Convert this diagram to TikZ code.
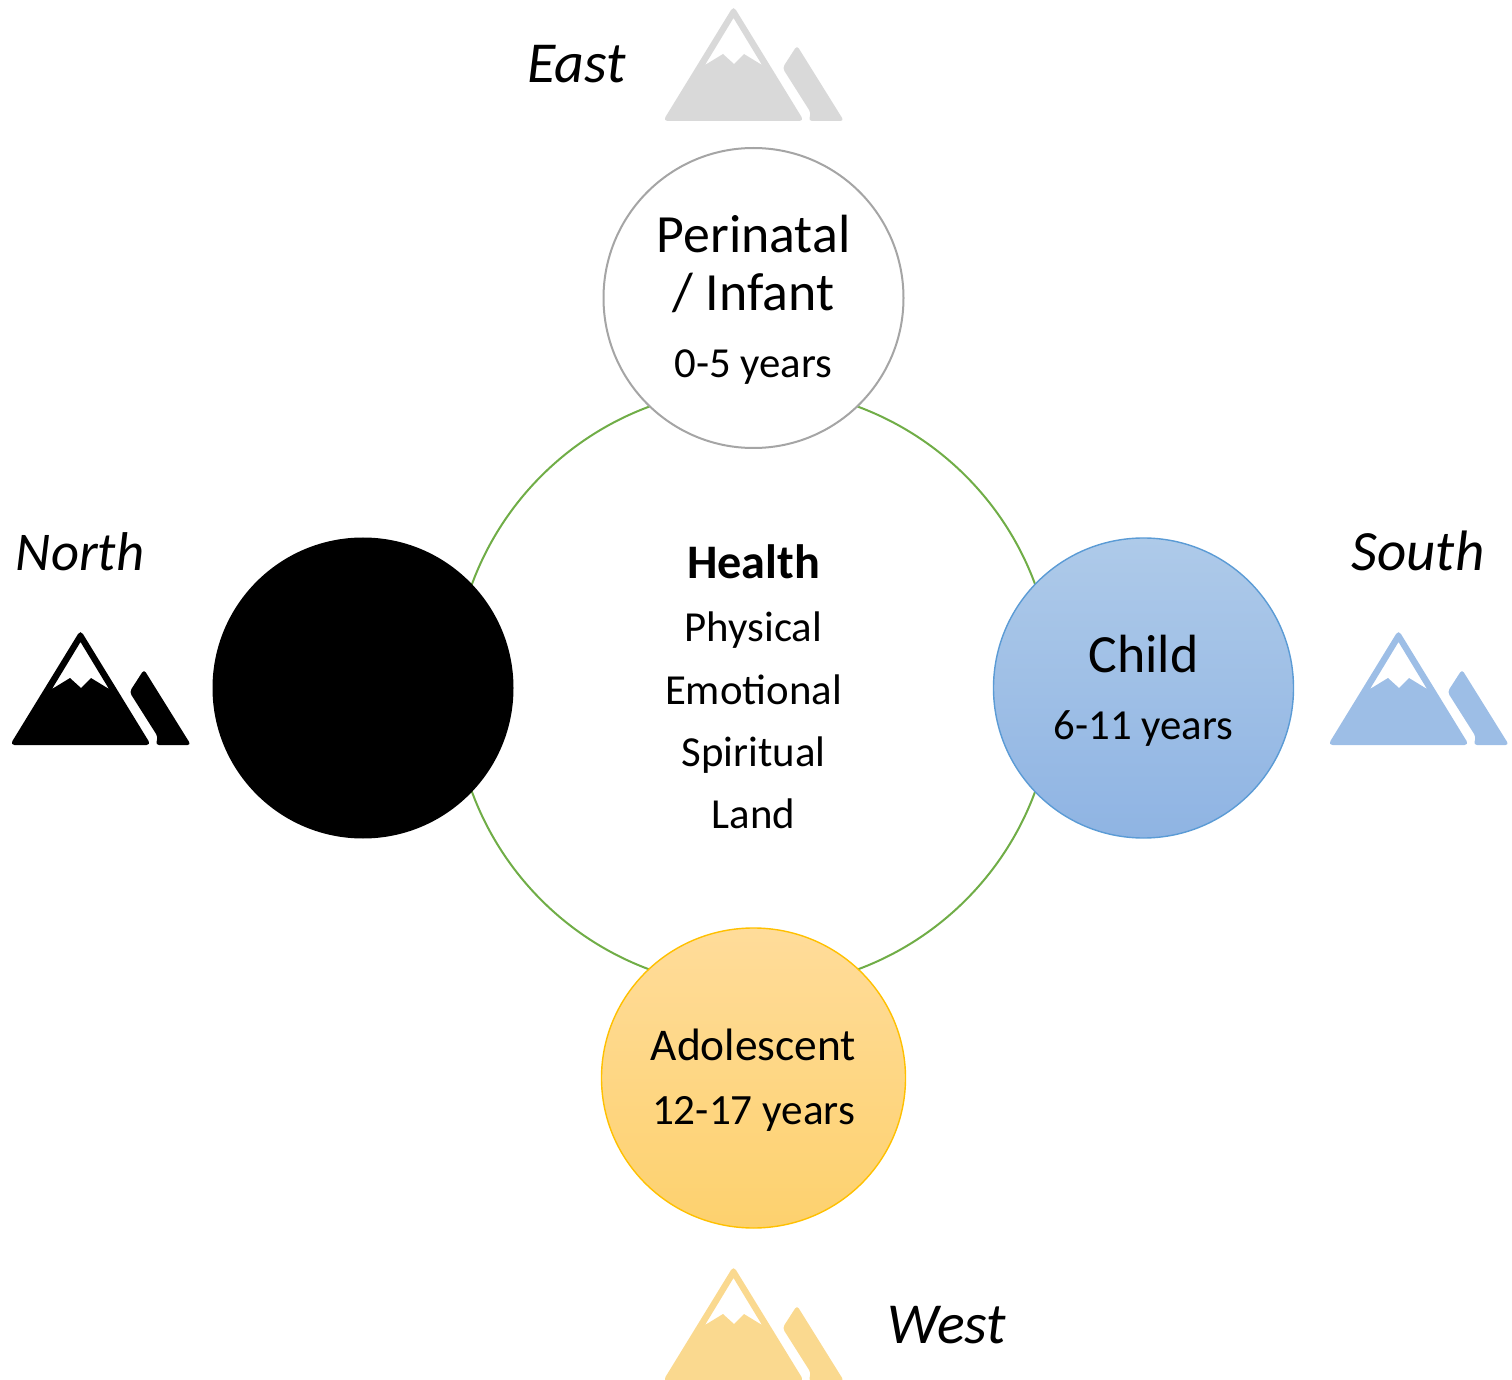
\documentclass[tikz,border=0pt]{standalone}
\usepackage{fontspec}
\usetikzlibrary{shapes.geometric}
\setmainfont{Carlito}
\definecolor{mgrey}{HTML}{D9D9D9}
\definecolor{mblue}{HTML}{9DBEE6}
\definecolor{mgold}{HTML}{FAD98F}
\definecolor{ringgreen}{HTML}{70AD47}
\definecolor{cblue}{HTML}{5B9BD5}
\definecolor{cgold}{HTML}{FFC000}
\definecolor{cgrey}{HTML}{A5A5A5}
\definecolor{bluetop}{HTML}{AECAE9}
\definecolor{bluebot}{HTML}{8FB4E3}
\definecolor{goldtop}{HTML}{FFDC9A}
\definecolor{goldbot}{HTML}{FDD16E}
\newlength{\pxu}\setlength{\pxu}{0.5pt}
\tikzset{
  stage/.style={circle,minimum size=300\pxu,inner sep=0pt,line width=1pt,align=center},
  lab/.style={inner sep=0pt,anchor=base},
  big/.style={lab,font=\fontsize{26.9}{32}\selectfont},
  small/.style={lab,font=\fontsize{21.4}{26}\selectfont},
  mid/.style={lab,font=\fontsize{22.7}{27}\selectfont},
  dir/.style={lab,font=\fontsize{29}{34}\selectfont\itshape},
  mountain/.pic={
    \fill[pic actions,rounded corners=4.5\pxu,even odd rule]
      (733.5,6) -- (663,121) -- (804,121) -- cycle
      [sharp corners] (733.5,18) -- (705,65) -- (723,54) -- (734,64) -- (744,54) -- (762,65) -- cycle;
    \fill[pic actions,rounded corners=3.5\pxu]
      (797,45.5) -- (782.5,68) -- (811,113) -- (808.5,121) -- (844,121) -- cycle;
  }
}
\begin{document}
\begin{tikzpicture}[x=0.5pt,y=-0.5pt]
\useasboundingbox (0,0) rectangle (1512,1380);
\clip (0,0) rectangle (1512,1380);
\node[circle,draw=ringgreen,line width=1pt,minimum size=600\pxu,inner sep=0pt] (ring) at (753.5,688) {};
\node[stage,draw=cgrey,fill=white] (east) at (753.5,298) {};
\node[stage,fill=black,minimum size=301\pxu,draw=none] (north) at (363,688) {};
\node[stage,draw=cblue,line width=0.7pt,top color=bluetop,bottom color=bluebot] (south) at (1143.5,688) {};
\node[ellipse,inner sep=0pt,minimum width=304\pxu,minimum height=300\pxu,draw=cgold,line width=0.7pt,top color=goldtop,bottom color=goldbot] (west) at (753.5,1078) {};
\node[big] (t1) at (753.5,253) {Perinatal};
\node[big] (t2) at (753.5,311) {/ Infant};
\node[small] (t3) at (753.5,378) {0-5 years};
\node[big] (t4) at (1143.5,672) {Child};
\node[small] (t5) at (1143.5,739) {6-11 years};
\node[mid] (t6) at (753.5,1060) {Adolescent};
\node[lab,font=\fontsize{21.6}{26}\selectfont] (t7) at (753.5,1124) {12-17 years};
\node[lab,font=\fontsize{24.1}{29}\selectfont\bfseries] (h0) at (753.5,579) {Health};
\node[small] (h1) at (753.5,641) {Physical};
\node[small] (h2) at (753.5,704) {Emotional};
\node[small] (h3) at (753.5,766) {Spiritual};
\node[small] (h4) at (753.5,828) {Land};
\node[dir] (deast) at (576.5,83) {East};
\node[lab,font=\fontsize{27.3}{32}\selectfont\itshape] (dnorth) at (80,571) {North};
\node[lab,font=\fontsize{28.5}{34}\selectfont\itshape] (dsouth) at (1418,571) {South};
\node[dir] (dwest) at (947,1343) {West};
\pic[fill=mgrey] at (0,0) {mountain};
\pic[fill=black] at (-653,624) {mountain};
\pic[fill=mblue] at (665,624) {mountain};
\pic[fill=mgold] at (0,1260) {mountain};
\end{tikzpicture}
\end{document}
